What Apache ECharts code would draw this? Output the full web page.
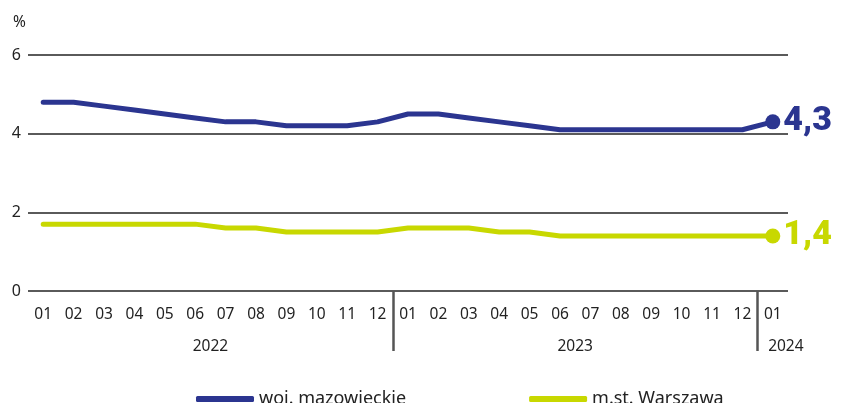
<!DOCTYPE html>
<html>
<head>
<meta charset="utf-8">
<script src="https://cdn.jsdelivr.net/npm/echarts@6/dist/echarts.min.js"></script>
<style>
  html, body { margin: 0; padding: 0; background: #fff; }
  #chart { width: 849px; height: 403px; }
</style>
</head>
<body>
<div id="chart"></div>
<script>
// miesiące: 2022-01 ... 2024-01
const months = ['01','02','03','04','05','06','07','08','09','10','11','12',
                '01','02','03','04','05','06','07','08','09','10','11','12',
                '01'];
const years = ['2022', '2023', '2024'];
const yearCenters = [6, 18, 24.93];   // positions on the helper axis
const yearBreaks = [12, 24];

const mazowieckie = [4.8, 4.8, 4.7, 4.6, 4.5, 4.4, 4.3, 4.3, 4.2, 4.2, 4.2, 4.3,
                     4.5, 4.5, 4.4, 4.3, 4.2, 4.1, 4.1, 4.1, 4.1, 4.1, 4.1, 4.1,
                     4.3];
const warszawa = [1.7, 1.7, 1.7, 1.7, 1.7, 1.7, 1.6, 1.6, 1.5, 1.5, 1.5, 1.5,
                  1.6, 1.6, 1.6, 1.5, 1.5, 1.4, 1.4, 1.4, 1.4, 1.4, 1.4, 1.4,
                  1.4];

const blue = '#2b3590';
const lime = '#c8d800';
const font = 'Noto Sans';

function endPoint(data, color) {
  // only the last point gets a dot and a big label
  return data.map((v, i) => {
    if (i !== data.length - 1) return v;
    return {
      value: v,
      symbol: 'circle',
      symbolSize: 15,
      label: {
        show: true,
        position: 'right',
        distance: 3,
        formatter: (p) => String(p.value).replace('.', ','),
        color: color,
        fontFamily: 'Roboto',
        fontWeight: 900,
        fontSize: 34
      }
    };
  });
}

let myChart = echarts.init(document.getElementById('chart'));

let option = {
  animation: false,
  textStyle: { fontFamily: font },
  grid: { left: 28, right: 61, top: 55, bottom: 112 },
  legend: {
    bottom: -10,
    left: 191,
    itemGap: 123,
    itemWidth: 58,
    itemHeight: 6,
    icon: 'roundRect',
    textStyle: { fontSize: 18, color: '#222', fontFamily: font },
    data: ['woj. mazowieckie', 'm.st. Warszawa']
  },
  xAxis: [
    {
      type: 'category',
      data: months,
      boundaryGap: true,
      axisLine: { show: false },
      axisTick: { show: false },
      axisLabel: { color: '#222', fontSize: 15.5, margin: 16, interval: 0 }
    },
    {
      type: 'value',
      min: 0,
      max: months.length,
      position: 'bottom',
      axisLine: { show: false },
      splitLine: { show: false },
      axisTick: {
        show: true,
        customValues: yearBreaks,
        length: 60,
        lineStyle: { color: '#555', width: 2.5 }
      },
      axisLabel: {
        customValues: yearCenters,
        margin: 48,
        color: '#222',
        fontSize: 15.5,
        formatter: (v) => years[yearCenters.indexOf(v)] || ''
      }
    }
  ],
  yAxis: {
    type: 'value',
    min: 0,
    max: 6,
    interval: 2,
    name: '%',
    nameLocation: 'end',
    nameGap: 24,
    nameTextStyle: { color: '#222', fontSize: 15.5, align: 'right', padding: [0, 2, 0, 0] },
    axisLine: { show: false },
    axisTick: { show: false },
    axisLabel: { color: '#222', fontSize: 16, margin: 7 },
    splitLine: { lineStyle: { color: '#5a5a5a', width: 2 } }
  },
  series: [
    {
      name: 'woj. mazowieckie',
      type: 'line',
      data: endPoint(mazowieckie, blue),
      color: blue,
      symbol: 'none',
      showAllSymbol: true,
      lineStyle: { width: 5, cap: 'round', join: 'round' },
      z: 3
    },
    {
      name: 'm.st. Warszawa',
      type: 'line',
      data: endPoint(warszawa, lime),
      color: lime,
      symbol: 'none',
      showAllSymbol: true,
      lineStyle: { width: 5, cap: 'round', join: 'round' },
      z: 3
    }
  ]
};

myChart.setOption(option);
</script>
</body>
</html>
